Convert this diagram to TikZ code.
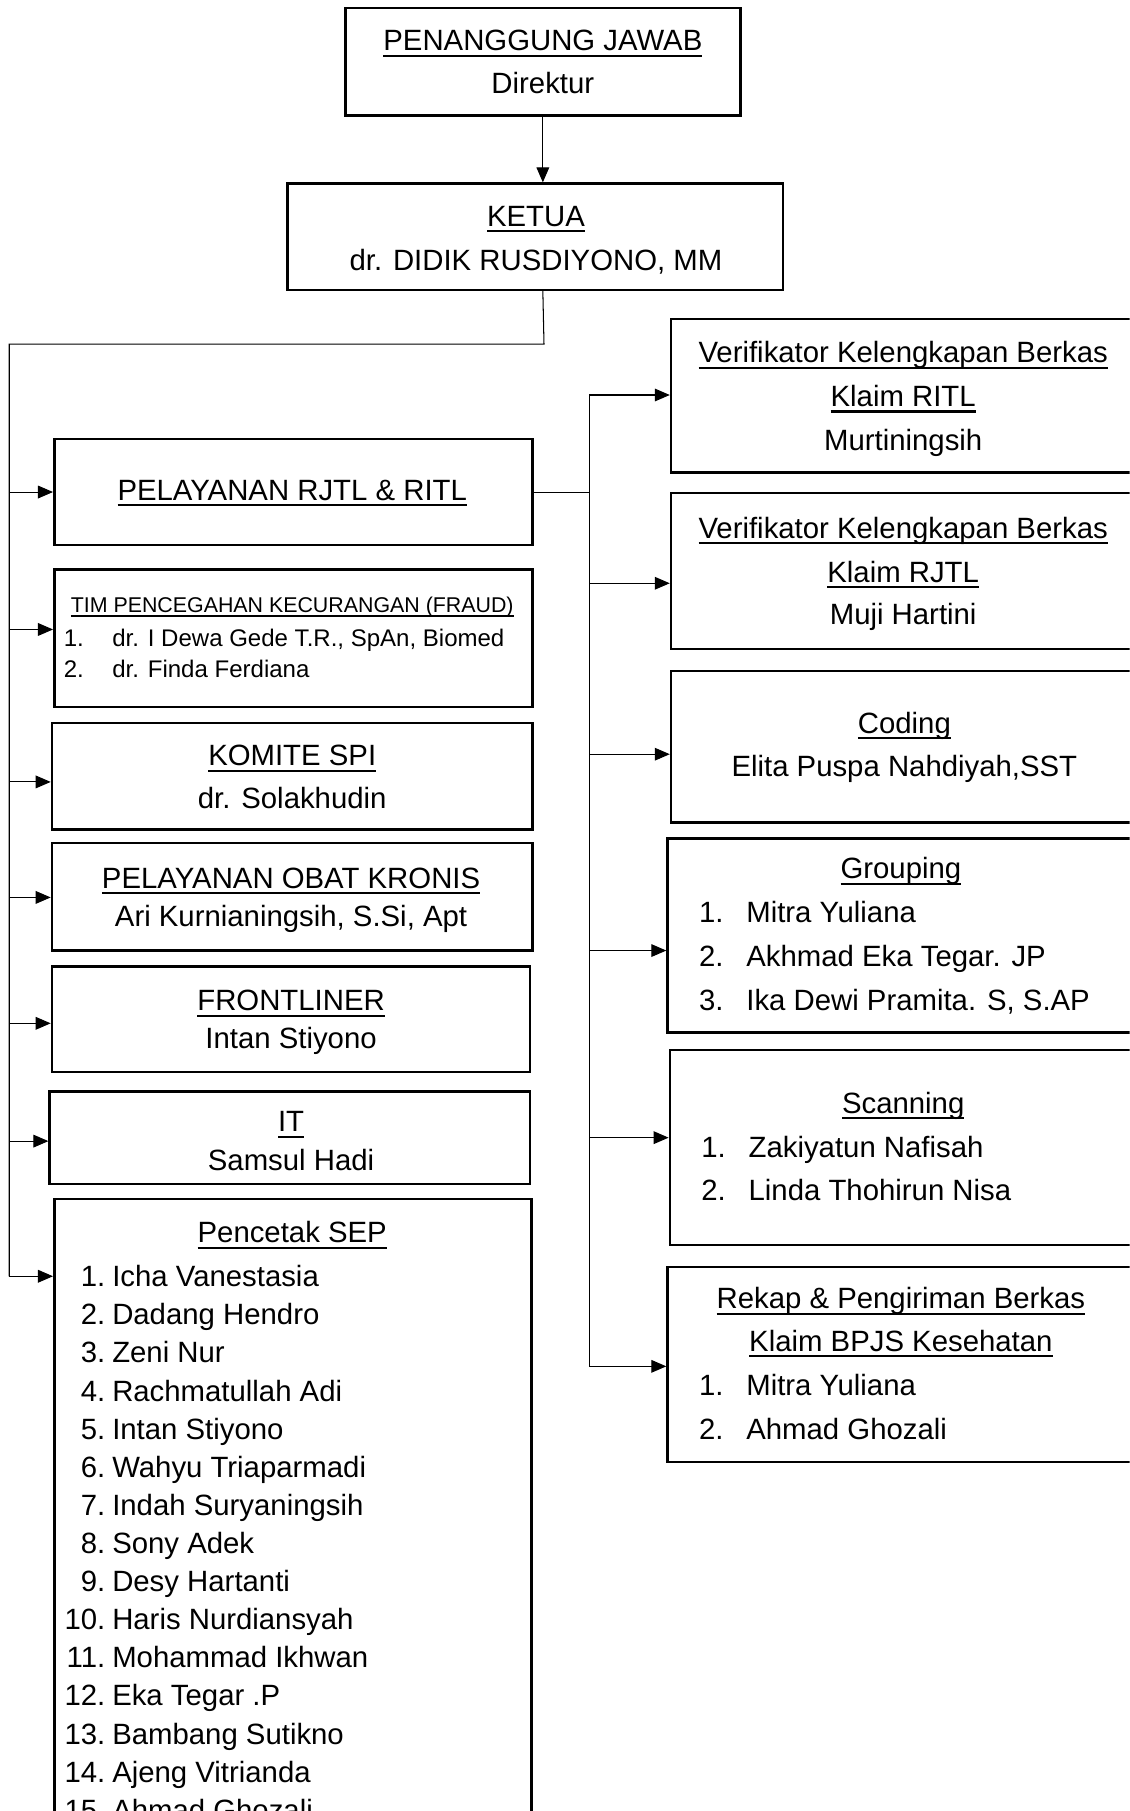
\documentclass[tikz,border=0pt]{standalone}
\usepackage{fontspec}
\setmainfont{Liberation Sans}
\usetikzlibrary{arrows.meta,fit}
\newcommand\ulx[1]{\setbox0\hbox{#1}\leavevmode\rlap{\rule[-5.2pt]{\wd0}{1.8pt}}\box0}
\newcommand\ulsmall[1]{\setbox0\hbox{#1}\leavevmode\rlap{\rule[-4pt]{\wd0}{1.4pt}}\box0}
\tikzset{
  box/.style={draw, line width=2.2pt, inner sep=0pt},
  conn/.style={line width=0.9pt},
  arrow/.style={conn, -{Triangle[length=13pt,width=11pt]}},
  lbl/.style={anchor=base, inner sep=0pt, font=\fontsize{25.4pt}{30pt}\selectfont},
  lbll/.style={lbl, anchor=base west},
  smalltitle/.style={anchor=base, inner sep=0pt, font=\fontsize{18.5pt}{22pt}\selectfont},
  smallitem/.style={anchor=base west, inner sep=0pt, font=\fontsize{20.8pt}{25pt}\selectfont},
}
\begin{document}
\begin{tikzpicture}[x=1pt,y=-1pt]
\useasboundingbox (0,0) rectangle (978,1568);
\clip (0,0) rectangle (978,1568);
\fill[white] (0,0) rectangle (978,1568);

% ---- top boxes
\node[box, fit={(299,7) (641,100)}] (pj) {};
\node[lbl] (pjt1) at (470,44) {\ulx{PENANGGUNG JAWAB}};
\node[lbl] (pjt2) at (470,81) {Direktur};

\node[box, fit={(249,159) (678,251)}] (ketua) {};
\node[lbl] (kt1) at (464,196) {\ulx{KETUA}};
\node[lbl] (kt2) at (464,234) {dr. DIDIK RUSDIYONO, MM};

% ---- left column
\node[box, fit={(47,380) (461,472)}] (rjtl) {};
\node[lbl] (rjtlt) at (253,433) {\ulx{PELAYANAN RJTL \& RITL}};

\node[box, fit={(47,493) (461,612)}] (tim) {};
\node[smalltitle] (timt) at (253,530) {\ulsmall{TIM PENCEGAHAN KECURANGAN (FRAUD)}};
\node[smallitem] (timi1) at (55,560) {\makebox[42pt][l]{1.}dr. I Dewa Gede T.R., SpAn, Biomed};
\node[smallitem] (timi2) at (55,587) {\makebox[42pt][l]{2.}dr. Finda Ferdiana};

\node[box, fit={(45,626) (461,718)}] (komite) {};
\node[lbl] (komt1) at (253,663) {\ulx{KOMITE SPI}};
\node[lbl] (komt2) at (253,700) {dr. Solakhudin};

\node[box, fit={(45,730) (461,823)}] (obat) {};
\node[lbl] (obt1) at (252,769) {\ulx{PELAYANAN OBAT KRONIS}};
\node[lbl] (obt2) at (252,802) {Ari Kurnianingsih, S.Si, Apt};

\node[box, fit={(45,837) (459,928)}] (front) {};
\node[lbl] (frt1) at (252,875) {\ulx{FRONTLINER}};
\node[lbl] (frt2) at (252,908) {Intan Stiyono};

\node[box, fit={(43,945) (459,1025)}] (it) {};
\node[lbl] (itt1) at (252,980) {\ulx{IT}};
\node[lbl] (itt2) at (252,1013) {Samsul Hadi};

\node[box, fit={(47,1038) (460,1600)}] (sep) {};
\node[lbl] (sept) at (253,1076) {\ulx{Pencetak SEP}};
\foreach \i/\nm in {1/Icha Vanestasia, 2/Dadang Hendro, 3/Zeni Nur, 4/Rachmatullah Adi,
  5/Intan Stiyono, 6/Wahyu Triaparmadi, 7/Indah Suryaningsih, 8/Sony Adek,
  9/Desy Hartanti, 10/Haris Nurdiansyah, 11/Mohammad Ikhwan, 12/Eka Tegar .P,
  13/Bambang Sutikno, 14/Ajeng Vitrianda, 15/Ahmad Ghozali}{
  \node[lbll] (sepi\i) at (55,{1081+33*\i}) {\makebox[36pt][r]{\i.}\hspace{6pt}\nm};
}

% ---- right column
\node[box, fit={(581,276) (990,409)}] (vritl) {};
\node[lbl] (vr1) at (782,314) {\ulx{Verifikator Kelengkapan Berkas}};
\node[lbl] (vr2) at (782,352) {\ulx{Klaim RITL}};
\node[lbl] (vr3) at (782,390) {Murtiningsih};

\node[box, fit={(581,427) (990,562)}] (vrjtl) {};
\node[lbl] (vj1) at (782,466) {\ulx{Verifikator Kelengkapan Berkas}};
\node[lbl] (vj2) at (782,504) {\ulx{Klaim RJTL}};
\node[lbl] (vj3) at (782,541) {Muji Hartini};

\node[box, fit={(581,581) (990,712)}] (coding) {};
\node[lbl] (cd1) at (783,635) {\ulx{Coding}};
\node[lbl] (cd2) at (783,672) {Elita Puspa Nahdiyah,SST};

\node[box, fit={(578,726) (990,894)}] (group) {};
\node[lbl] (gr0) at (780,761) {\ulx{Grouping}};
\node[lbll] (gr1) at (605,799) {\makebox[41pt][l]{1.}Mitra Yuliana};
\node[lbll] (gr2) at (605,837) {\makebox[41pt][l]{2.}Akhmad Eka Tegar. JP};
\node[lbll] (gr3) at (605,875) {\makebox[41pt][l]{3.}Ika Dewi Pramita. S, S.AP};

\node[box, fit={(580,909) (990,1078)}] (scan) {};
\node[lbl] (sc0) at (782,964) {\ulx{Scanning}};
\node[lbll] (sc1) at (607,1002) {\makebox[41pt][l]{1.}Zakiyatun Nafisah};
\node[lbll] (sc2) at (607,1039) {\makebox[41pt][l]{2.}Linda Thohirun Nisa};

\node[box, fit={(578,1097) (990,1266)}] (rekap) {};
\node[lbl] (rk1) at (780,1133) {\ulx{Rekap \& Pengiriman Berkas}};
\node[lbl] (rk2) at (780,1170) {\ulx{Klaim BPJS Kesehatan}};
\node[lbll] (rk3) at (605,1208) {\makebox[41pt][l]{1.}Mitra Yuliana};
\node[lbll] (rk4) at (605,1246) {\makebox[41pt][l]{2.}Ahmad Ghozali};

% ---- connectors
\draw[arrow] (pj.south) -- (pj.south |- ketua.north);

\coordinate (tk) at (471,298);
\coordinate (tl) at (8,298);
\coordinate (l1) at (8,426);
\coordinate (l2) at (8,545);
\coordinate (l3) at (8,677);
\coordinate (l4) at (8,777);
\coordinate (l5) at (8,886);
\coordinate (l6) at (8,988);
\coordinate (l7) at (8,1105);
\draw[conn] (pj.south |- ketua.south) -- (tk) -- (tl) -- (l7);
\draw[arrow] (l1) -- (l1 -| rjtl.west);
\draw[arrow] (l2) -- (l2 -| tim.west);
\draw[arrow] (l3) -- (l3 -| komite.west);
\draw[arrow] (l4) -- (l4 -| obat.west);
\draw[arrow] (l5) -- (l5 -| front.west);
\draw[arrow] (l6) -- (l6 -| it.west);
\draw[arrow] (l7) -- (l7 -| sep.west);

\coordinate (r1) at (510,342);
\coordinate (r2) at (510,505);
\coordinate (r3) at (510,653);
\coordinate (r4) at (510,823);
\coordinate (r5) at (510,985);
\coordinate (r6) at (510,1183);
\draw[conn] (rjtl.east) -- (rjtl.east -| r1);
\draw[conn] (r1) -- (r6);
\draw[arrow] (r1) -- (r1 -| vritl.west);
\draw[arrow] (r2) -- (r2 -| vrjtl.west);
\draw[arrow] (r3) -- (r3 -| coding.west);
\draw[arrow] (r4) -- (r4 -| group.west);
\draw[arrow] (r5) -- (r5 -| scan.west);
\draw[arrow] (r6) -- (r6 -| rekap.west);
\end{tikzpicture}
\end{document}
